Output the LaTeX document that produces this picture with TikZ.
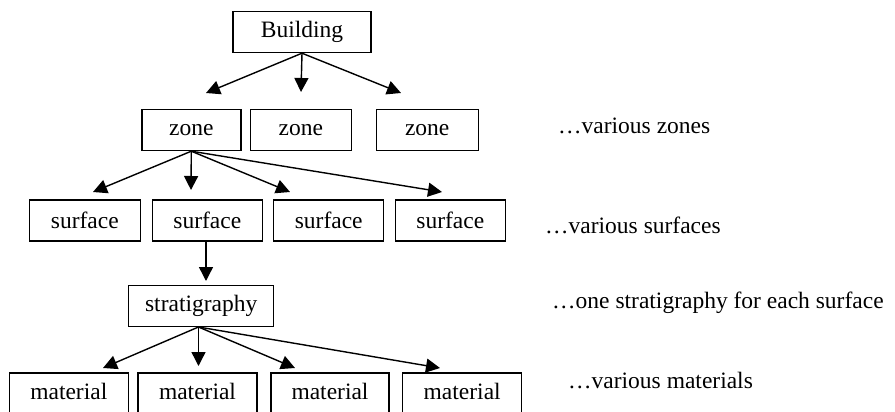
\documentclass[tikz,border=0pt]{standalone}
\usepackage{fontspec}
\setmainfont{Liberation Serif}
\usetikzlibrary{arrows.meta}
\begin{document}
\begin{tikzpicture}[x=1pt,y=-1pt,
  box/.style={draw=black,line width=1.4pt,inner sep=0pt,minimum height=41pt,
    font=\fontsize{23.5}{26}\selectfont},
  note/.style={anchor=base west,inner sep=0pt,font=\fontsize{23.5}{26}\selectfont},
  link/.style={line width=1.4pt,-{Triangle[length=14pt,width=14pt]}}]
\useasboundingbox (0,0) rectangle (895,412);
\clip (0,0) rectangle (895,412);

% hierarchy boxes
\node[box,minimum width=138pt] (bld) at (302,32) {Building};

\node[box,minimum width=99pt]  (z1) at (191.3,130) {zone};
\node[box,minimum width=101pt] (z2) at (300.8,130) {zone};
\node[box,minimum width=102pt] (z3) at (427.2,130) {zone};

\node[box,minimum width=111pt] (s1) at (84.8,220.5) {surface};
\node[box,minimum width=110pt] (s2) at (207.3,220.5) {surface};
\node[box,minimum width=110pt] (s3) at (328.7,220.5) {surface};
\node[box,minimum width=110pt] (s4) at (450.3,220.5) {surface};

\node[box,minimum width=145pt] (st) at (201.2,305.8) {stratigraphy};

\node[box,minimum width=119pt,minimum height=45pt,text depth=8pt] (m1) at (68.8,395.5) {material};
\node[box,minimum width=119pt,minimum height=45pt,text depth=8pt] (m2) at (197.5,395.5) {material};
\node[box,minimum width=118pt,minimum height=45pt,text depth=8pt] (m3) at (330,395.5) {material};
\node[box,minimum width=119pt,minimum height=45pt,text depth=8pt] (m4) at (462.2,395.5) {material};

% side notes
\node[note] (n1) at (558,133) {…various zones};
\node[note] (n2) at (545,233) {…various surfaces};
\node[note] (n3) at (552,308) {…one stratigraphy for each surface};
\node[note] (n4) at (568,388) {…various materials};

% arrow tips stop short of the boxes
\coordinate (tz1) at (206,93);
\coordinate (tz2) at (301,92);
\coordinate (tz3) at (401,93);
\coordinate (ts1) at (93,192);
\coordinate (ts2) at (191,190);
\coordinate (ts3) at (290,192);
\coordinate (ts4) at (442,192);
\coordinate (tst) at (206,281);
\coordinate (tm1) at (103,368);
\coordinate (tm2) at (198.5,366);
\coordinate (tm3) at (295,368);
\coordinate (tm4) at (440,368);
\coordinate (stb) at ([xshift=-2.7pt]st.south);
\coordinate (s2b) at ([xshift=-1.3pt]s2.south);

\foreach \t in {tz1,tz2,tz3} \draw[link] (bld.south) -- (\t);
\foreach \t in {ts1,ts2,ts3,ts4} \draw[link] (z1.south) -- (\t);
\draw[link] (s2b) -- (tst);
\foreach \t in {tm1,tm2,tm3,tm4} \draw[link] (stb) -- (\t);
\end{tikzpicture}
\end{document}
